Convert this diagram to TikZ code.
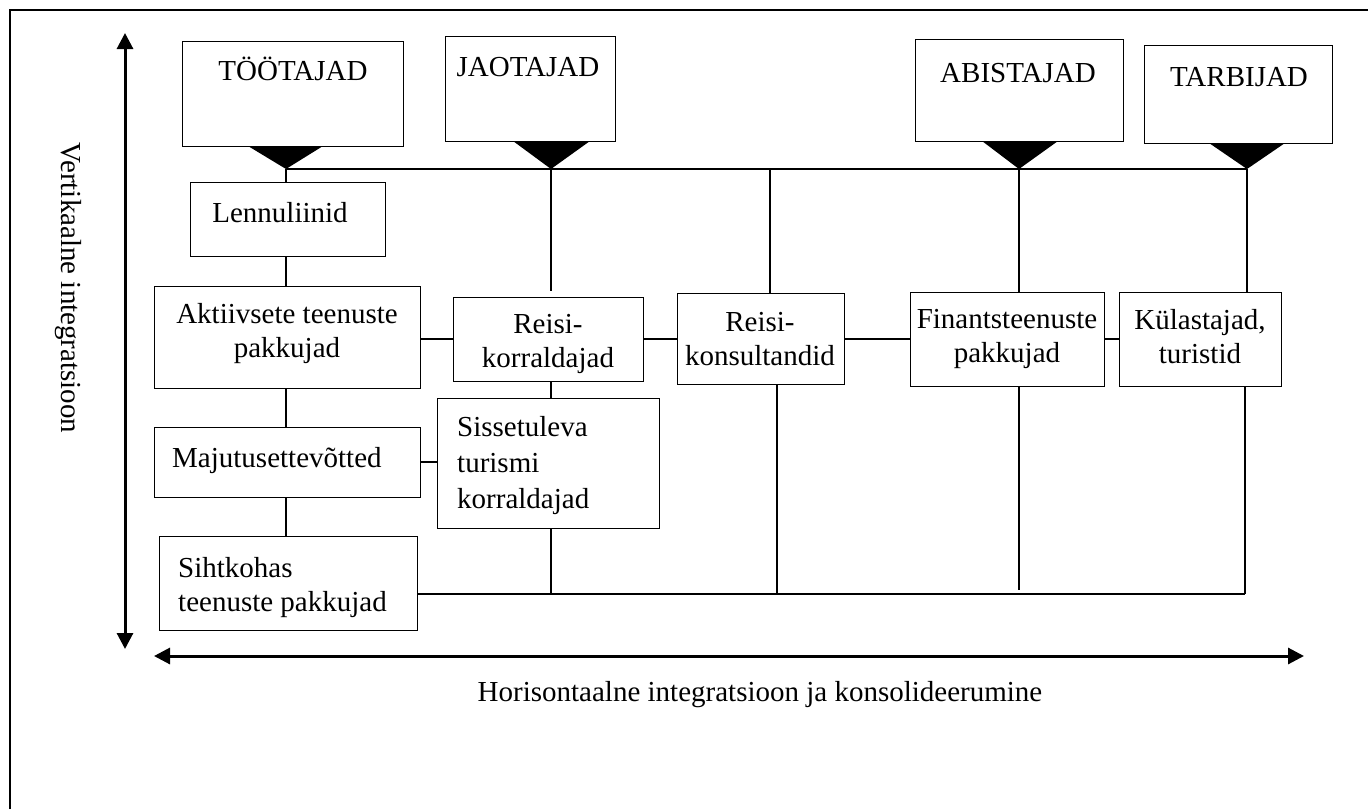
\documentclass[tikz,border=0pt]{standalone}
\usepackage{fontspec}
\setmainfont{Liberation Serif}
\usetikzlibrary{arrows.meta,calc}
\begin{document}
\begin{tikzpicture}[x=1pt,y=-1pt,
  every node/.style={font=\fontsize{29}{34}\selectfont, inner sep=0pt},
  box/.style={draw, line width=1.3pt, anchor=north west},
  lbl/.style={anchor=north, align=center},
  lbll/.style={anchor=north west, align=left},
  link/.style={line width=1.3pt},
  axis/.style={line width=3pt, {Triangle[width=16pt,length=16pt]}-{Triangle[width=16pt,length=16pt]}},
  wedge/.style={fill=black}]
\useasboundingbox (0,0) rectangle (1368,809);
% page frame (left and top edges)
\draw[line width=1.5pt] (10,809) -- (10,10) -- (1368,10);

% top category boxes
\node[box, minimum width=221, minimum height=105] (toot) at (182,41) {};
\node[anchor=base] (tootT) at (293,80) {TÖÖTAJAD};
\node[box, minimum width=170, minimum height=105] (jaot) at (445,36) {};
\node[anchor=base] (jaotT) at (528,76) {JAOTAJAD};
\node[box, minimum width=208, minimum height=102] (abis) at (915,39) {};
\node[anchor=base] (abisT) at (1018,82) {ABISTAJAD};
\node[box, minimum width=188, minimum height=98] (tarb) at (1144,45) {};
\node[anchor=base] (tarbT) at (1239,86) {TARBIJAD};

% wedges under the category boxes
\coordinate (apT) at (286,169);
\coordinate (apJ) at (551,169);
\coordinate (apA) at (1019,169);
\coordinate (apR) at (1247,169);
\fill[wedge] (248,146) -- (323,146) -- (apT) -- cycle;
\fill[wedge] (513,141) -- (590,141) -- (apJ) -- cycle;
\fill[wedge] (982,141) -- (1058,141) -- (apA) -- cycle;
\fill[wedge] (1209,143) -- (1285,143) -- (apR) -- cycle;

% actor boxes
\node[box, minimum width=195, minimum height=74] (lenn) at (190,182) {};
\node[anchor=base] (lennT) at (280,222) {Lennuliinid};
\node[box, minimum width=266, minimum height=102] (akt) at (154,286) {};
\node[lbl] (aktT) at (287,303) {Aktiivsete teenuste\\pakkujad};
\node[box, minimum width=266, minimum height=70] (maj) at (154,427) {};
\node[anchor=base west] (majT) at (172,467) {Majutusettevõtted};
\node[box, minimum width=258, minimum height=94] (siht) at (159,536) {};
\node[lbll] (sihtT) at (178,557) {Sihtkohas\\teenuste pakkujad};
\node[box, minimum width=190, minimum height=84] (korr) at (453,297) {};
\node[lbl] (korrT) at (548,314) {Reisi-\\korraldajad};
\node[box, minimum width=222, minimum height=130] (siss) at (437,398) {};
\node[lbll, font=\fontsize{29}{36}\selectfont] (sissT) at (457,416) {Sissetuleva\\turismi\\korraldajad};
\node[box, minimum width=167, minimum height=91] (kons) at (677,293) {};
\node[lbl] (konsT) at (760,312) {Reisi-\\konsultandid};
\node[box, minimum width=194, minimum height=94] (fin) at (910,292) {};
\node[lbl] (finT) at (1007,309) {Finantsteenuste\\pakkujad};
\node[box, minimum width=162, minimum height=94] (kul) at (1119,292) {};
\node[lbl] (kulT) at (1200,309) {Külastajad,\\turistid};

% upper bus and drops
\draw[link] (apT) -- (apR);
\draw[link] (apT) -- (apT |- lenn.north);
\draw[link] (lenn.south -| apT) -- (akt.north -| apT);
\draw[link] (akt.south -| apT) -- (maj.north -| apT);
\draw[link] (maj.south -| apT) -- (siht.north -| apT);
\coordinate (jEnd) at ($(apJ |- korr.north)+(0,-6)$);
\draw[link] (apJ) -- (jEnd);
\coordinate (busK) at (770,169);
\draw[link] (busK) -- (busK |- kons.north);
\draw[link] (apA) -- (apA |- fin.north);
\draw[link] (apR) -- (apR |- kul.north);

% middle row links
\coordinate (midrow) at (0,339);
\draw[link] (akt.east |- midrow) -- (korr.west |- midrow);
\draw[link] (korr.east |- midrow) -- (kons.west |- midrow);
\draw[link] (kons.east |- midrow) -- (fin.west |- midrow);
\draw[link] (fin.east |- midrow) -- (kul.west |- midrow);
\draw[link] (korr.south -| apJ) -- (siss.north -| apJ);
\coordinate (majrow) at (0,462);
\draw[link] (maj.east |- majrow) -- (siss.west |- majrow);

% lower bus
\coordinate (bb) at (1245,594);
\draw[link] (siht.east |- bb) -- (bb);
\draw[link] (siss.south -| apJ) -- (apJ |- bb);
\coordinate (bk) at (777,594);
\draw[link] (bk |- kons.south) -- (bk);
\coordinate (fEnd) at (1019,590);
\draw[link] (apA |- fin.south) -- (fEnd);
\draw[link] (bb |- kul.south) -- (bb);

% axes
\coordinate (vTop) at (125,33);
\coordinate (vBot) at (125,649);
\draw[axis] (vBot) -- (vTop);
\coordinate (hL) at (154,656);
\coordinate (hR) at (1304,656);
\draw[axis] (hL) -- (hR);
\node[rotate=-90] (vlab) at (68,288) {Vertikaalne integratsioon};
\node (hlab) at (760,695) {Horisontaalne integratsioon ja konsolideerumine};
\end{tikzpicture}
\end{document}
